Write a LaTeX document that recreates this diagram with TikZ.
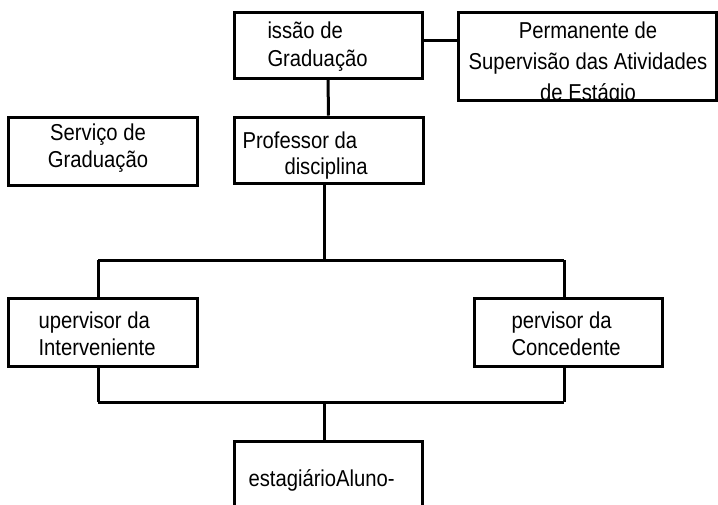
\documentclass[tikz,border=0pt]{standalone}
\usepackage{fontspec}
\setmainfont{Liberation Sans}[FakeStretch=0.88]
\begin{document}
\begin{tikzpicture}[x=1pt,y=-1pt,line width=3pt,
    box/.style={draw,rectangle,inner sep=0pt},
    txt/.style={inner sep=0pt,align=left,font=\fontsize{23}{27}\selectfont}]
      \useasboundingbox (0,0) rectangle (718,504);
      \clip (0,0) rectangle (718,504);
      % boxes
      \node[box,minimum width=188pt,minimum height=66pt] (comissao) at (328,45) {};
      \node[box,minimum width=258pt,minimum height=88pt] (permanente) at (587,56) {};
      \node[box,minimum width=189pt,minimum height=68pt] (servico) at (102.5,151) {};
      \node[box,minimum width=189pt,minimum height=66pt] (professor) at (328.5,150) {};
      \node[box,minimum width=189pt,minimum height=68pt] (supL) at (102.5,332) {};
      \node[box,minimum width=188pt,minimum height=68pt] (supR) at (568,332) {};
      \node[box,minimum width=188pt,minimum height=98pt] (aluno) at (328,490) {};
      % texts
      \node[txt,anchor=north west,font=\fontsize{23}{28}\selectfont] (tcomissao) at (266,20) {iss\~ao de\\Gradua\c{c}\~ao};
      \begin{scope}
        \clip (458,12) rectangle (716,100);
        \node[txt,align=center,anchor=north,font=\fontsize{23}{31}\selectfont] (tpermanente) at (588,20)
          {Permanente de\\Supervis\~ao das Atividades\\de Est\'agio};
      \end{scope}
      \node[txt,align=center,anchor=north] (tservico) at (98,122) {Servi\c{c}o de\\Gradua\c{c}\~ao};
      \node[txt,anchor=north west,font=\fontsize{23}{26}\selectfont] (tprofessor) at (241,130) {Professor da\\\hspace*{42pt}disciplina};
      \node[txt,anchor=north west] (tsupL) at (37,310) {upervisor da\\Interveniente};
      \node[txt,anchor=north west] (tsupR) at (510,310) {pervisor da\\Concedente};
      \node[txt,anchor=north west] (taluno) at (247,468) {estagi\'arioAluno-};
      % connectors
      \coordinate (split) at (324,260);
      \coordinate (topL) at (98,260);
      \coordinate (topR) at (564,260);
      \coordinate (botL) at (98,402);
      \coordinate (botR) at (564,402);
      \coordinate (bot) at (324,402);
      \draw ([yshift=5pt]comissao.east) -- ([yshift=5pt]comissao.east -| permanente.west);
      \draw (comissao) -- (professor);
      \draw (professor.south -| split) -- (split);
      \draw (topL) -- (topR);
      \draw (topL) -- (topL |- supL.north);
      \draw (topR) -- (topR |- supR.north);
      \draw (supL.south -| botL) -- (botL);
      \draw (supR.south -| botR) -- (botR);
      \draw (botL) -- (botR);
      \draw (bot) -- (bot |- aluno.north);
    \end{tikzpicture}
\end{document}
